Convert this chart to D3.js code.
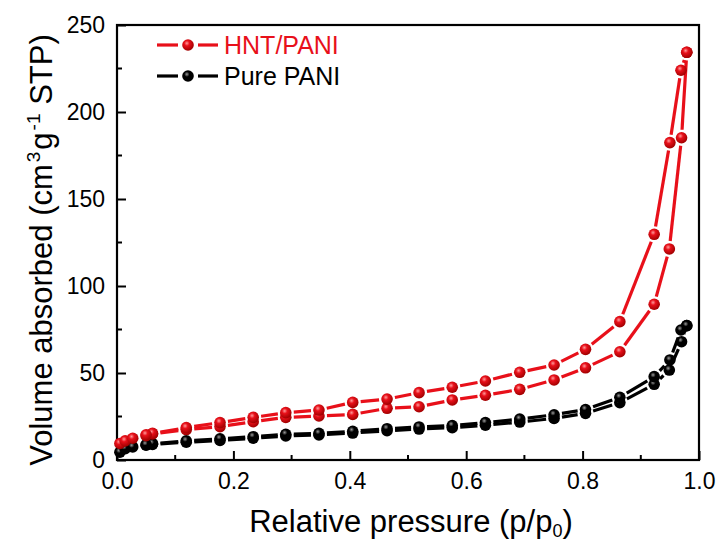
<!DOCTYPE html>
<html>
<head>
<meta charset="utf-8">
<script src="https://d3js.org/d3.v7.min.js"></script>
<style>
  body { margin: 0; background: #fff; }
  text { font-family: "Liberation Sans", Arial, sans-serif; }
</style>
</head>
<body>
<div id="chart"></div>
<script>
// relative pressure grids
const adsP = [0.005, 0.014, 0.027, 0.05, 0.061, 0.119, 0.177, 0.234, 0.29, 0.347, 0.405, 0.464, 0.519, 0.576, 0.633, 0.692, 0.751, 0.805, 0.864, 0.923, 0.949, 0.970, 0.979];
const desP = [0.979, 0.969, 0.950, 0.923, 0.864, 0.805, 0.751, 0.692, 0.633, 0.576, 0.519, 0.464, 0.405, 0.347, 0.29, 0.234, 0.177, 0.119, 0.061, 0.05];

// HNT/PANI
const hntAds = [9.5, 11, 12.5, 14, 15, 17.5, 19.2, 22, 24.5, 25.3, 26.2, 29.7, 30.6, 34.5, 37.2, 40.6, 46, 53, 62.2, 89.5, 121.3, 185.2, 234.3];
const hntDes = [234.3, 224, 182.4, 129.7, 79.5, 63.6, 54.6, 50.4, 45.4, 41.8, 38.7, 35, 33.1, 28.7, 27.2, 24.5, 21.5, 18.6, 15.3, 14.5];

// Pure PANI
const paniAds = [4.5, 6.5, 7.5, 8.5, 9, 10.2, 11.2, 12.5, 13.8, 14.4, 15.5, 16.8, 17.8, 18.6, 20, 21.8, 23.9, 26.8, 33, 43.5, 51.7, 68, 77.2];
const paniDes = [77.2, 74.7, 57.5, 47.9, 36, 29, 26, 23.5, 21.5, 19.8, 19, 18, 16.5, 15.3, 14.8, 13.4, 12.2, 11, 9.4, 8.8];

const xTicks = [0, 0.2, 0.4, 0.6, 0.8, 1.0];
const yTicks = [0, 50, 100, 150, 200, 250];

const series = [
  { name: "HNT/PANI", color: "#e8101a", light: "#ff9a9a", dark: "#a00000", ads: hntAds, des: hntDes },
  { name: "Pure PANI", color: "#000000", light: "#9a9a9a", dark: "#000000", ads: paniAds, des: paniDes }
];

const W = 720, H = 546;
const m = { left: 117, right: 21, top: 25, bottom: 86 };

const svg = d3.select("#chart").append("svg")
  .attr("width", W).attr("height", H);

const x = d3.scaleLinear().domain([0, 1]).range([m.left, W - m.right]);
const y = d3.scaleLinear().domain([0, 250]).range([H - m.bottom, m.top]);

// sphere gradients for markers
const defs = svg.append("defs");
series.forEach((s, i) => {
  const g = defs.append("radialGradient").attr("id", "ball" + i)
    .attr("cx", "40%").attr("cy", "35%").attr("r", "65%");
  g.append("stop").attr("offset", "0%").attr("stop-color", s.light);
  g.append("stop").attr("offset", "35%").attr("stop-color", s.color);
  g.append("stop").attr("offset", "100%").attr("stop-color", s.dark);
});

// axes
const xAxis = d3.axisBottom(x).tickValues(xTicks).tickSize(-9)
  .tickFormat(d3.format(".1f")).tickPadding(13);
const yAxis = d3.axisLeft(y).tickValues(yTicks).tickSize(-9).tickPadding(12);

const gx = svg.append("g").attr("transform", `translate(0,${H - m.bottom})`).call(xAxis);
const gy = svg.append("g").attr("transform", `translate(${m.left},0)`).call(yAxis);

// minor ticks
svg.append("g").selectAll("line")
  .data(d3.range(0.1, 1, 0.2))
  .join("line")
  .attr("x1", d => x(d)).attr("x2", d => x(d))
  .attr("y1", H - m.bottom).attr("y2", H - m.bottom - 5)
  .attr("stroke", "#000").attr("stroke-width", 2);
svg.append("g").selectAll("line")
  .data(d3.range(25, 250, 50))
  .join("line")
  .attr("x1", m.left).attr("x2", m.left + 5)
  .attr("y1", d => y(d)).attr("y2", d => y(d))
  .attr("stroke", "#000").attr("stroke-width", 2);

[gx, gy].forEach(g => {
  g.select(".domain").remove();
  g.selectAll(".tick line").attr("stroke", "#000").attr("stroke-width", 2);
  g.selectAll(".tick text").attr("fill", "#000")
    .style("font-size", "23px").style("font-family", "Liberation Sans, Arial, sans-serif");
});

// frame
svg.append("rect")
  .attr("x", m.left).attr("y", m.top)
  .attr("width", W - m.left - m.right).attr("height", H - m.top - m.bottom)
  .attr("fill", "none").attr("stroke", "#000").attr("stroke-width", 2.2);

// segments with gaps around markers
const R = 5.8, GAP = 8;
function gappedSegments(pts) {
  const segs = [];
  for (let i = 0; i < pts.length - 1; i++) {
    const [x1, y1] = pts[i], [x2, y2] = pts[i + 1];
    const dx = x2 - x1, dy = y2 - y1, len = Math.hypot(dx, dy);
    if (len <= 2 * GAP) continue;
    const ux = dx / len, uy = dy / len;
    segs.push([x1 + ux * GAP, y1 + uy * GAP, x2 - ux * GAP, y2 - uy * GAP]);
  }
  return segs;
}

const plot = svg.append("g");
series.slice().reverse().forEach(s => {
  const i = series.indexOf(s);
  const branches = [
    adsP.map((p, k) => [x(p), y(s.ads[k])]),
    desP.map((p, k) => [x(p), y(s.des[k])])
  ];
  branches.forEach(pts => {
    plot.append("g").selectAll("line")
      .data(gappedSegments(pts))
      .join("line")
      .attr("x1", d => d[0]).attr("y1", d => d[1])
      .attr("x2", d => d[2]).attr("y2", d => d[3])
      .attr("stroke", s.color).attr("stroke-width", 3.2);
    plot.append("g").selectAll("circle")
      .data(pts)
      .join("circle")
      .attr("cx", d => d[0]).attr("cy", d => d[1]).attr("r", R)
      .attr("fill", `url(#ball${i})`);
  });
});

// legend
const leg = svg.append("g");
series.forEach((s, i) => {
  const ly = 45 + i * 31;
  leg.append("line").attr("x1", 157).attr("x2", 178).attr("y1", ly).attr("y2", ly)
    .attr("stroke", s.color).attr("stroke-width", 3.2);
  leg.append("line").attr("x1", 198).attr("x2", 218).attr("y1", ly).attr("y2", ly)
    .attr("stroke", s.color).attr("stroke-width", 3.2);
  leg.append("circle").attr("cx", 188).attr("cy", ly).attr("r", R)
    .attr("fill", `url(#ball${i})`);
  leg.append("text").attr("x", 224).attr("y", ly + 9)
    .attr("fill", s.color).style("font-size", "25px").text(s.name);
});

// axis titles
const xt = svg.append("text").attr("x", x(0.5) + 3).attr("y", 532)
  .attr("text-anchor", "middle").style("font-size", "31px").attr("fill", "#000");
xt.append("tspan").text("Relative pressure (p/p");
xt.append("tspan").attr("dy", 5).style("font-size", "18px").text("0");
xt.append("tspan").attr("dy", -5).text(")");

const yt = svg.append("text")
  .attr("transform", `translate(52,250) rotate(-90)`)
  .attr("text-anchor", "middle").style("font-size", "31px").attr("fill", "#000");
yt.append("tspan").text("Volume absorbed (cm");
yt.append("tspan").attr("dy", -12).attr("dx", 2).style("font-size", "19px").text("3");
yt.append("tspan").attr("dy", 12).attr("dx", 2).text("g");
yt.append("tspan").attr("dy", -12).attr("dx", 2).style("font-size", "19px").text("-1");
yt.append("tspan").attr("dy", 12).text(" STP)");
</script>
</body>
</html>
